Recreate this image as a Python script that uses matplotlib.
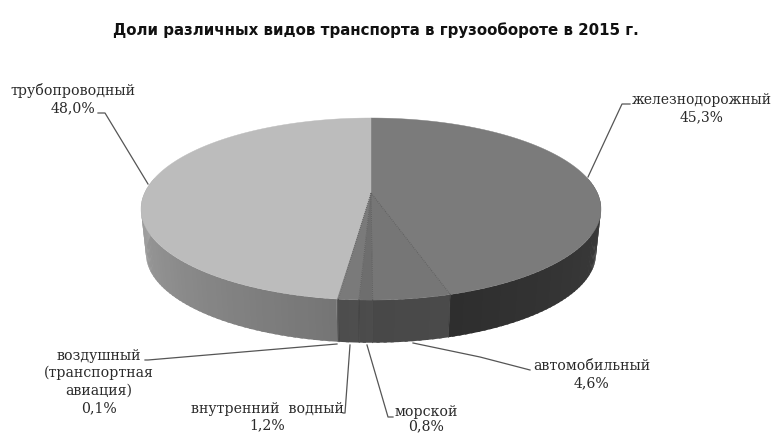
import numpy as np
import matplotlib
matplotlib.use("Agg")
import matplotlib.pyplot as plt

TITLE = "Доли различных видов транспорта в грузообороте в 2015 г."
categories = ["железнодорожный", "автомобильный", "морской",
              "внутренний  водный", "воздушный", "трубопроводный"]
shares = [45.3, 4.6, 0.8, 1.2, 0.1, 48.0]
value_labels = ["45,3%", "4,6%", "0,8%", "1,2%", "0,1%", "48,0%"]

top_colors = ["#7b7b7b", "#767676", "#6e6e6e", "#7a7a7a", "#8c8c8c", "#bcbcbc"]
side_start = ["#3f3f3f", "#4a4a4a", "#4c4c4c", "#4e4e4e", "#5a5a5a", "#757575"]
side_end = ["#2e2e2e", "#484848", "#4a4a4a", "#4c4c4c", "#5a5a5a", "#a6a6a6"]

fig = plt.figure(figsize=(7.73, 4.33), dpi=100, facecolor="white")
ax = fig.add_axes([0, 0, 1, 1])
ax.set_xlim(0, 773)
ax.set_ylim(433, 0)
ax.axis("off")

# Perspective projection of the disc: the far edge is foreshortened.
CX, K = 371.0, 0.176


def project(theta, radius_x, radius_y, cy):
    """Map a clockwise angle from the back of the disc to the drawing plane."""
    u, v = np.sin(theta), np.cos(theta)
    w = 1 + K * v
    return CX + radius_x * u / w, cy - radius_y * v / w


def top_rim(theta):
    return project(theta, 226.4, 88.2, 193.0)


def bottom_rim(theta):
    return project(theta, 221.5, 86.3, 238.0)


edges = np.radians(np.concatenate([[0], np.cumsum(shares)]) * 3.6)

# Outer wall: only the part facing the viewer is visible.
wall_from, wall_to = np.radians(80), np.radians(280)
for i in range(len(shares)):
    lo, hi = max(edges[i], wall_from), min(edges[i + 1], wall_to)
    if hi <= lo:
        continue
    steps = max(2, int(np.degrees(hi - lo) / 1.5))
    grid = np.linspace(lo, hi, steps + 1)
    c0 = np.array(matplotlib.colors.to_rgb(side_start[i]))
    c1 = np.array(matplotlib.colors.to_rgb(side_end[i]))
    overlap = np.radians(0.7)
    for j in range(steps):
        # Each strip runs slightly under the next one so no seams appear.
        t = np.linspace(grid[j], min(grid[j + 1] + overlap, hi), 4)
        xt, yt = top_rim(t)
        xb, yb = bottom_rim(t)
        mix = (j + 0.5) / steps
        ax.fill(np.r_[xt, xb[::-1]], np.r_[yt, yb[::-1]],
                facecolor=c0 + (c1 - c0) * mix, edgecolor="none", lw=0, zorder=2)

# Top face
apex_x, apex_y = CX, 193.0
for i in range(len(shares)):
    t = np.linspace(edges[i], edges[i + 1], 180)
    xs, ys = top_rim(t)
    ax.fill(np.r_[apex_x, xs], np.r_[apex_y, ys], color=top_colors[i], lw=0.3, zorder=3)

# Thin separators between the narrow slices
for e in edges[1:5]:
    x, y = top_rim(e)
    ax.plot([apex_x, x], [apex_y, y], color="#5f5f5f", lw=0.6, ls=(0, (1.5, 1)), zorder=4)
    xb, yb = bottom_rim(e)
    ax.plot([x, xb], [y, yb], color="#3a3a3a", lw=0.5, zorder=4)

serif = "DejaVu Serif"
ink = "#2a2a2a"
line = "#555555"
lw = 0.9

ax.text(376, 30, TITLE, ha="center", va="center", fontsize=10.85, fontweight="bold",
        family="DejaVu Sans", color="#111111")


def label(x, y, lines, size=10.2, step=17):
    for k, s in enumerate(lines):
        ax.text(x, y + k * step, s, ha="center", va="center", fontsize=size,
                family=serif, color=ink, zorder=5)


label(73, 91, [categories[5], value_labels[5]])
label(702, 100, [categories[0], value_labels[0]], size=10.0)
label(592, 366, [categories[1], value_labels[1]])
label(426, 412, [categories[2], value_labels[2]], step=14.5)
label(267, 409, [categories[3], value_labels[3]], step=16)
label(99, 356, ["воздушный", "(транспортная", "авиация)", value_labels[4]], step=17.3)

leaders = [
    ([98, 105, 148], [113, 113, 184]),
    ([630, 622, 588], [104, 104, 177]),
    ([413, 480, 530], [343, 357, 370]),
    ([367, 388, 393], [345, 417, 417]),
    ([350, 345, 343], [345, 413, 413]),
    ([337, 148, 145], [344, 360, 360]),
]
for xs, ys in leaders:
    ax.plot(xs, ys, color=line, lw=lw, zorder=1.5)

fig.savefig("out.png", dpi=100)
